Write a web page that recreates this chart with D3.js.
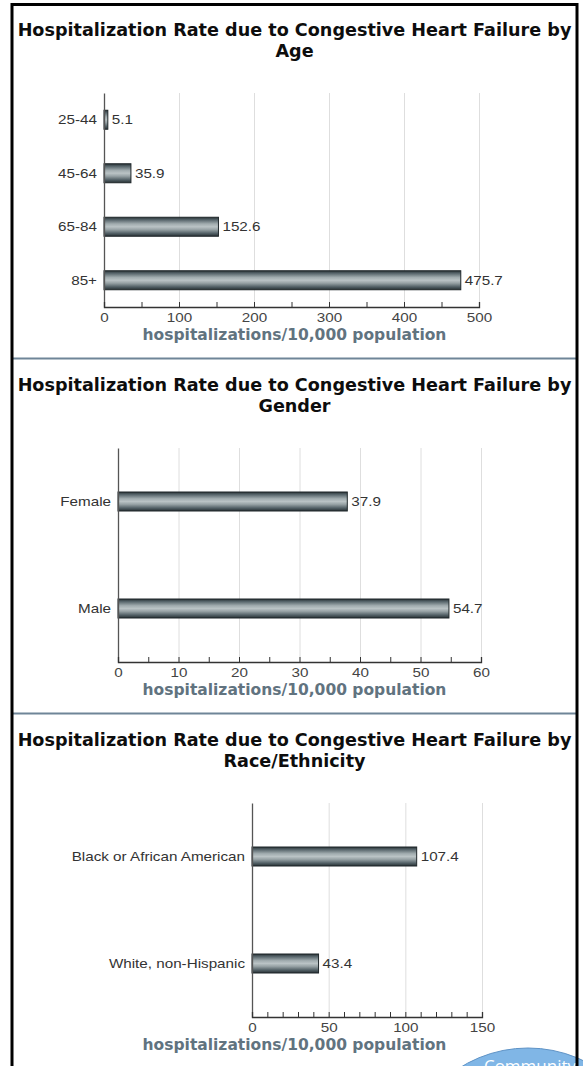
<!DOCTYPE html>
<html>
<head>
<meta charset="utf-8">
<script src="https://cdn.jsdelivr.net/npm/d3@7"></script>
<style>
    body { margin: 0; background: #fff; }
    svg { display: block; }
    .cat, .val, .tick-label { font-family: "Liberation Sans", Arial, sans-serif; font-size: 13px; fill: #333; }
    .tick-label { fill: #444; }
    .title { font-family: "DejaVu Sans", Verdana, sans-serif; font-weight: bold; font-size: 15px; fill: #0d0d0d; }
    .axis-title { font-family: "DejaVu Sans", Verdana, sans-serif; font-weight: bold; font-size: 14px; fill: #61737f; }
</style>
</head>
<body>
<svg id="chart" width="583" height="1066"></svg>
<script>
// data
const ageCategories = ["25-44", "45-64", "65-84", "85+"];
const ageValues = [5.1, 35.9, 152.6, 475.7];
const ageTicks = [0, 100, 200, 300, 400, 500];

const genderCategories = ["Female", "Male"];
const genderValues = [37.9, 54.7];
const genderTicks = [0, 10, 20, 30, 40, 50, 60];

const raceCategories = ["Black or African American", "White, non-Hispanic"];
const raceValues = [107.4, 43.4];
const raceTicks = [0, 50, 100, 150];

const titleStart = "Hospitalization Rate due to Congestive Heart Failure by";
const axisLabel = "hospitalizations/10,000 population";

const panels = [
    {top: 4, sub: "Age", cats: ageCategories, vals: ageValues, ticks: ageTicks, minor: 50, left: 104, right: 479},
    {top: 359, sub: "Gender", cats: genderCategories, vals: genderValues, ticks: genderTicks, minor: 5, left: 118, right: 481},
    {top: 714, sub: "Race/Ethnicity", cats: raceCategories, vals: raceValues, ticks: raceTicks, minor: 10, left: 252, right: 482}
];

const svg = d3.select("#chart");
const centerX = 294.5;
const barHeight = 19;
const stretch = 1.17; // small texts in the picture look a little wide

// cylinder-like gradient for the bars
const grad = svg.append("defs").append("linearGradient")
    .attr("id", "barGrad")
    .attr("x1", 0).attr("y1", 0).attr("x2", 0).attr("y2", 1);
[["0%", "#283134"], ["12%", "#526066"], ["35%", "#a1acaf"], ["50%", "#bac3c5"],
 ["65%", "#97a2a5"], ["85%", "#515f65"], ["100%", "#283134"]].forEach(s => {
    grad.append("stop").attr("offset", s[0]).attr("stop-color", s[1]);
});

function fitWidth(sel, target) {
    const w = sel.node().getComputedTextLength();
    const fs = parseFloat(getComputedStyle(sel.node()).fontSize);
    sel.style("font-size", (fs * target / w) + "px");
}

function widen(sel) {
    sel.each(function() {
        const w = this.getComputedTextLength();
        d3.select(this)
            .attr("textLength", w * stretch)
            .attr("lengthAdjust", "spacingAndGlyphs");
    });
}

// decoration bubble at bottom right
svg.append("circle")
    .attr("cx", 528).attr("cy", 1176).attr("r", 128)
    .attr("fill", "#80b6e6").attr("stroke", "#5f93c6");
svg.append("text")
    .attr("x", 530).attr("y", 1072)
    .attr("text-anchor", "middle")
    .style("font-family", "'Open Sans', sans-serif")
    .style("font-size", "17px")
    .style("fill", "#fff")
    .text("Community");

panels.forEach(function(p) {
    const plotTop = p.top + 89;
    const plotBottom = p.top + 303;
    const xMax = p.ticks[p.ticks.length - 1];

    const x = d3.scaleLinear().domain([0, xMax]).range([p.left, p.right]);
    const y = d3.scalePoint().domain(p.cats).range([plotTop, plotBottom]).padding(0.5);

    const g = svg.append("g");

    // title
    const t1 = g.append("text").attr("class", "title")
        .attr("x", centerX).attr("y", p.top + 32)
        .attr("text-anchor", "middle").text(titleStart);
    fitWidth(t1, 554);
    g.append("text").attr("class", "title")
        .attr("x", centerX).attr("y", p.top + 53)
        .attr("text-anchor", "middle")
        .style("font-size", t1.style("font-size"))
        .text(p.sub);

    // gridlines
    g.append("g")
        .attr("transform", `translate(0, ${plotBottom})`)
        .call(d3.axisBottom(x).tickValues(p.ticks.slice(1)).tickSize(-(plotBottom - plotTop)).tickFormat(""))
        .call(a => a.select(".domain").remove())
        .call(a => a.selectAll("line").attr("stroke", "#dedede"));

    // bars
    g.selectAll("rect.bar")
        .data(p.vals)
        .enter()
        .append("rect")
        .attr("class", "bar")
        .attr("x", x(0))
        .attr("y", (d, i) => y(p.cats[i]) - barHeight / 2)
        .attr("width", d => x(d) - x(0))
        .attr("height", barHeight)
        .attr("fill", "url(#barGrad)")
        .attr("stroke", "#1f272a")
        .attr("stroke-width", 1);

    // value labels
    g.selectAll("text.val")
        .data(p.vals)
        .enter()
        .append("text")
        .attr("class", "val")
        .attr("x", d => x(d) + 4)
        .attr("y", (d, i) => y(p.cats[i]))
        .attr("dy", "0.35em")
        .text(d => d.toFixed(1))
        .call(widen);

    // left axis with category labels
    g.append("g")
        .attr("transform", `translate(${p.left}, 0)`)
        .call(d3.axisLeft(y).tickSize(0).tickPadding(7))
        .call(a => a.select(".domain").attr("stroke", "#555").attr("stroke-width", 1.3))
        .call(a => a.selectAll("text").attr("class", "cat").attr("fill", null).call(widen));

    // minor + major ticks pointing up
    g.append("g")
        .attr("transform", `translate(0, ${plotBottom})`)
        .call(d3.axisBottom(x).tickValues(d3.range(0, xMax + p.minor / 2, p.minor)).tickSize(-5).tickFormat(""))
        .call(a => a.select(".domain").attr("stroke", "#333").attr("stroke-width", 1.3))
        .call(a => a.selectAll("line").attr("stroke", "#333"));

    // tick labels
    g.append("g")
        .attr("transform", `translate(0, ${plotBottom})`)
        .call(d3.axisBottom(x).tickValues(p.ticks).tickSize(0).tickPadding(6))
        .call(a => a.select(".domain").remove())
        .call(a => a.selectAll("text").attr("class", "tick-label").attr("fill", null).call(widen));

    // axis title
    const at = g.append("text").attr("class", "axis-title")
        .attr("x", centerX).attr("y", p.top + 336)
        .attr("text-anchor", "middle").text(axisLabel);
    fitWidth(at, 304);
});

// separators and outer frame
[358.5, 713.5].forEach(sy => {
    svg.append("line")
        .attr("x1", 12).attr("x2", 577)
        .attr("y1", sy).attr("y2", sy)
        .attr("stroke", "#6f8598").attr("stroke-width", 2);
});
svg.append("rect")
    .attr("x", 12).attr("y", 4.5)
    .attr("width", 565).attr("height", 1100)
    .attr("fill", "none").attr("stroke", "#000").attr("stroke-width", 3);
</script>
</body>
</html>
